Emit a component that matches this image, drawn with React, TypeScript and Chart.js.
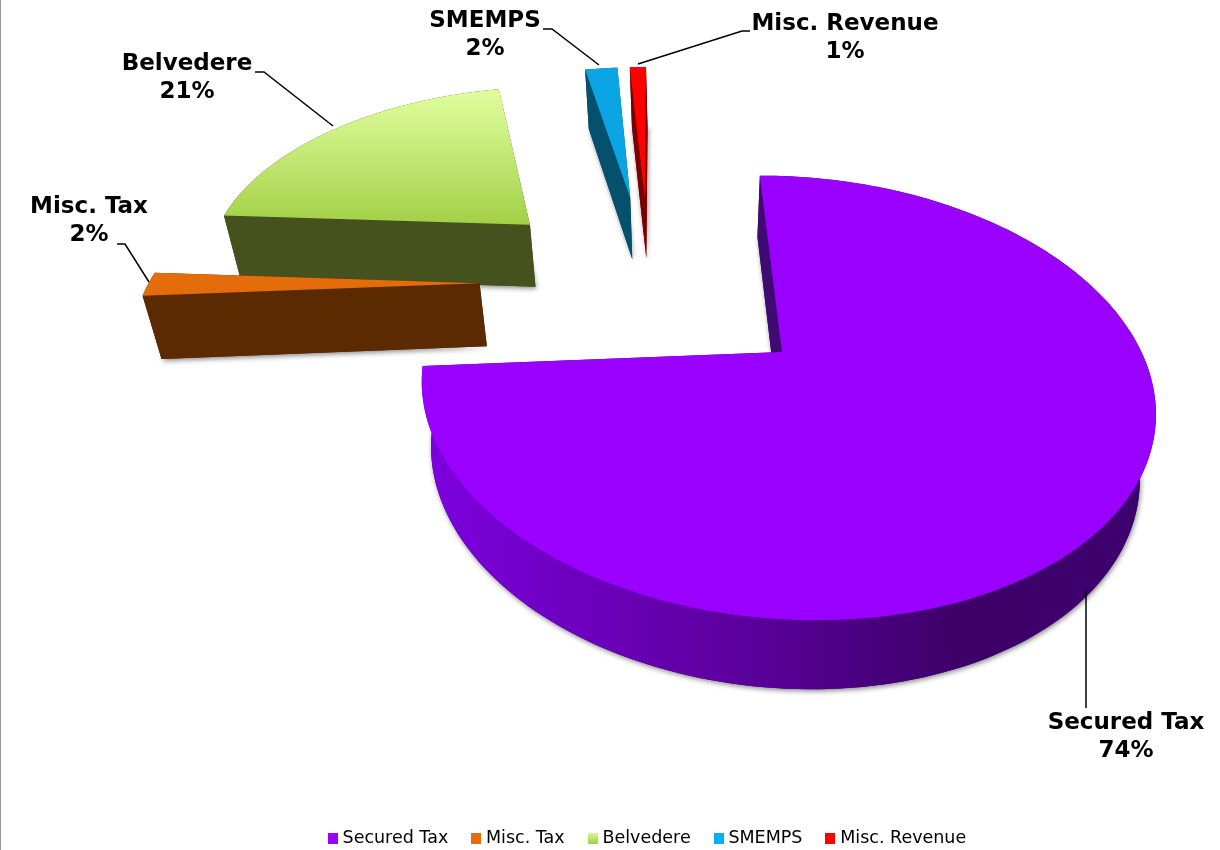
import React, { useEffect, useRef } from "react";
import { Chart, registerables } from "chart.js";

Chart.register(...registerables);

// Revenue mix, in percent of the total.
const categories = ["Secured Tax", "Misc. Tax", "Belvedere", "SMEMPS", "Misc. Revenue"];
const shares = [74, 2, 21, 2, 1];

const topColors = ["#9900ff", "#e46c0a", "#c4e87a", "#0aa5e2", "#ff0000"];
const legendColors = ["#9900ff", "#e46c0a", "#c4e87a", "#00b0f0", "#ff0000"];
const faceColors = ["#3f0a72", "#5c2a00", "#45521e", "#04506f", "#7a0000"];
const paintOrder = [4, 3, 2, 1, 0];

const FONT = '"DejaVu Sans", Verdana, sans-serif';

// Projection of the pie's ground plane: the unit circle lands on this tilted
// ellipse and the circle's centre lands on the eye point inside it.
const ELLIPSE = { cx: 787, cy: 398, rx: 367, ry: 222, leanX: 0.04, leanY: 0.03, pivotY: 352 };
const EYE = { x: -0.0136, y: -0.207 };
const EXPLOSION = 0.51;

type Pt = { x: number; y: number };

function project(q: Pt): Pt {
  const s = Math.hypot(EYE.x, EYE.y);
  const n = { x: EYE.x / s, y: EYE.y / s };
  const gamma = Math.sqrt(1 - s * s);
  const along = q.x * n.x + q.y * n.y;
  const perp = { x: q.x - along * n.x, y: q.y - along * n.y };
  const w = 1 + EYE.x * q.x + EYE.y * q.y;
  const tx = (ELLIPSE.rx * (along * n.x + EYE.x + gamma * perp.x)) / w;
  const ty = (ELLIPSE.ry * (along * n.y + EYE.y + gamma * perp.y)) / w;
  const y = ELLIPSE.cy + ty;
  return {
    x: ELLIPSE.cx + tx + ELLIPSE.leanX * (y - ELLIPSE.pivotY),
    y: y + ELLIPSE.leanY * tx,
  };
}

// Underside of the pie, seen lower and slightly narrower than its top.
function drop(p: Pt): Pt {
  return { x: p.x + (690 - p.x) * 0.0346, y: p.y + 59 + (p.y - 65) * 0.018 };
}

function tracePath(ctx: CanvasRenderingContext2D, pts: Pt[]) {
  ctx.beginPath();
  pts.forEach((p, i) => (i ? ctx.lineTo(p.x, p.y) : ctx.moveTo(p.x, p.y)));
  ctx.closePath();
}

type Callout = { lines: string[]; x: number; y: number; leader: number[][] };
const callouts: Callout[] = [
  { lines: ["Secured Tax", "74%"], x: 1126, y: 723, leader: [[1086, 589], [1086, 708]] },
  { lines: ["Misc. Tax", "2%"], x: 89, y: 207, leader: [[117, 244], [125, 244], [149, 282]] },
  { lines: ["Belvedere", "21%"], x: 187, y: 64, leader: [[255, 72], [264, 72], [333, 126]] },
  { lines: ["SMEMPS", "2%"], x: 485, y: 21, leader: [[543, 29], [552, 29], [599, 65]] },
  { lines: ["Misc. Revenue", "1%"], x: 845, y: 24, leader: [[750, 31], [742, 31], [638, 64]] },
];

function drawSlice(ctx: CanvasRenderingContext2D, arc: any, index: number, anchor: Pt) {
  const start = arc.startAngle;
  const end = arc.endAngle;
  const mid = (start + end) / 2;
  const off = {
    x: EXPLOSION * Math.cos(mid) - anchor.x,
    y: EXPLOSION * Math.sin(mid) - anchor.y,
  };
  const apex = project(off);
  const rim: Pt[] = [];
  const steps = Math.max(8, Math.ceil((end - start) * 40));
  for (let i = 0; i <= steps; i++) {
    const a = start + ((end - start) * i) / steps;
    rim.push(project({ x: off.x + Math.cos(a), y: off.y + Math.sin(a) }));
  }
  const lowRim = rim.map(drop);
  const lowApex = drop(apex);
  const face = faceColors[index];

  // Underside, which alone throws the soft shadow on the page.
  ctx.save();
  ctx.shadowColor = "rgba(0,0,0,0.45)";
  ctx.shadowBlur = 5;
  ctx.shadowOffsetX = 1;
  ctx.shadowOffsetY = 2;
  ctx.fillStyle = face;
  tracePath(ctx, [lowApex, ...lowRim]);
  ctx.fill();
  ctx.restore();

  // Curved outer wall; the big slice is shaded from left to right.
  let wall: string | CanvasGradient = face;
  if (index === 0) {
    const g = ctx.createLinearGradient(425, 0, 1145, 0);
    g.addColorStop(0, "#7d00e0");
    g.addColorStop(0.25, "#6a00b8");
    g.addColorStop(0.5, "#560094");
    g.addColorStop(0.75, "#3c0066");
    g.addColorStop(1, "#3f0070");
    wall = g;
  }
  ctx.fillStyle = wall;
  tracePath(ctx, [...rim, ...[...lowRim].reverse()]);
  ctx.fill();

  ctx.fillStyle = face;
  tracePath(ctx, [apex, rim[0], lowRim[0], lowApex]);
  ctx.fill();
  tracePath(ctx, [apex, rim[steps], lowRim[steps], lowApex]);
  ctx.fill();

  // Top surface.
  let top: string | CanvasGradient = topColors[index];
  if (index === 2) {
    const g = ctx.createLinearGradient(0, apex.y - 140, 0, apex.y);
    g.addColorStop(0, "#e2ff9f");
    g.addColorStop(0.35, "#cdf083");
    g.addColorStop(1, "#a2d046");
    top = g;
  }
  ctx.fillStyle = top;
  tracePath(ctx, [apex, ...rim]);
  ctx.fill();
}

const piePainter = {
  id: "piePainter",
  beforeDatasetsDraw(chart: any) {
    const ctx: CanvasRenderingContext2D = chart.ctx;
    const arcs = chart.getDatasetMeta(0).data;
    const firstMid = (arcs[0].startAngle + arcs[0].endAngle) / 2;
    const anchor = { x: EXPLOSION * Math.cos(firstMid), y: EXPLOSION * Math.sin(firstMid) };

    ctx.save();
    ctx.fillStyle = "#9a9a9a";
    ctx.fillRect(0, 0, 1, chart.height);
    paintOrder.forEach((i) => drawSlice(ctx, arcs[i], i, anchor));

    ctx.strokeStyle = "#000";
    ctx.lineWidth = 1.5;
    ctx.fillStyle = "#000";
    ctx.font = `bold 23px ${FONT}`;
    ctx.textAlign = "center";
    ctx.textBaseline = "middle";
    callouts.forEach((c) => {
      ctx.beginPath();
      c.leader.forEach(([x, y], i) => (i ? ctx.lineTo(x, y) : ctx.moveTo(x, y)));
      ctx.stroke();
      c.lines.forEach((line, i) => ctx.fillText(line, c.x, c.y + i * 28));
    });
    ctx.restore();
    return false;
  },
};

function swatch(color: string, index: number) {
  const c = document.createElement("canvas");
  c.width = 10;
  c.height = 11;
  const g = c.getContext("2d")!;
  if (index === 2) {
    const grad = g.createLinearGradient(0, 0, 0, 11);
    grad.addColorStop(0, "#dcfa9a");
    grad.addColorStop(1, "#a2d046");
    g.fillStyle = grad;
  } else {
    g.fillStyle = color;
  }
  g.fillRect(0, 0, 10, 11);
  return c;
}

export default function App() {
  const ref = useRef<HTMLCanvasElement>(null);

  useEffect(() => {
    const chart = new Chart(ref.current!, {
      type: "pie",
      data: {
        labels: categories,
        datasets: [{ data: shares, backgroundColor: legendColors, borderWidth: 0 }],
      },
      options: {
        responsive: false,
        animation: false,
        rotation: -3,
        layout: { padding: { left: 78, bottom: -7 } },
        plugins: {
          tooltip: { enabled: false },
          legend: {
            position: "bottom",
            labels: {
              usePointStyle: true,
              pointStyleWidth: 2,
              boxHeight: 11,
              padding: 27,
              color: "#1a1a1a",
              font: { family: FONT, size: 17.5 },
              generateLabels: () =>
                categories.map((text, i) => ({
                  text,
                  index: i,
                  hidden: false,
                  lineWidth: 0,
                  fillStyle: legendColors[i],
                  strokeStyle: legendColors[i],
                  pointStyle: swatch(legendColors[i], i),
                })),
            },
          },
        },
      } as any,
      plugins: [piePainter],
    });
    return () => chart.destroy();
  }, []);

  return (
    <div style={{ position: "fixed", left: 0, top: 0, width: 1220, height: 850, background: "#fff" }}>
      <canvas ref={ref} width={1220} height={850} style={{ display: "block" }} />
    </div>
  );
}
